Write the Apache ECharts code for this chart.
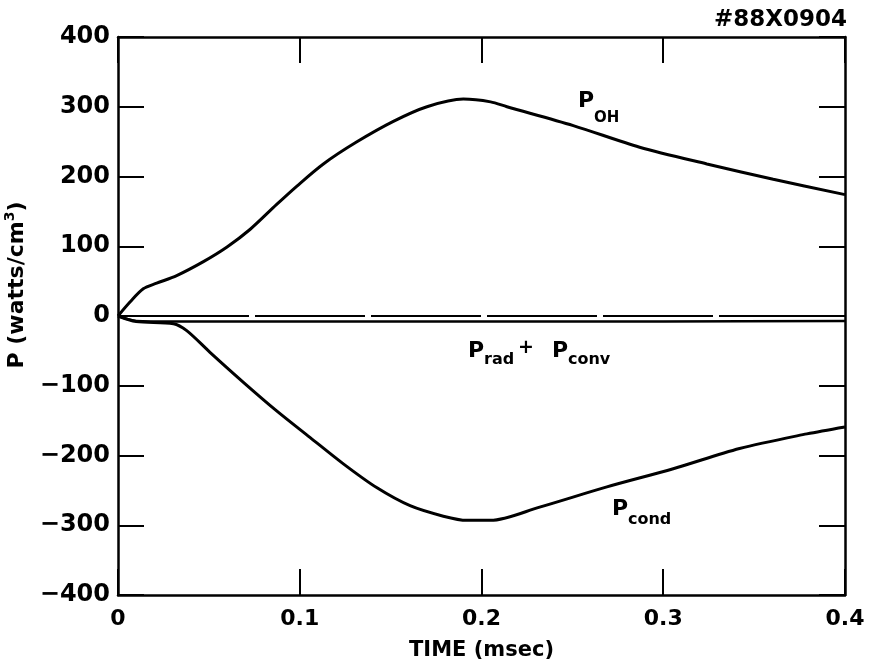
<!DOCTYPE html>
<html>
<head>
<meta charset="utf-8">
<script src="https://cdn.jsdelivr.net/npm/echarts@6/dist/echarts.min.js"></script>
<style>
html,body{margin:0;padding:0;background:#fff;}
#chart{width:873px;height:666px;}
</style>
</head>
<body>
<div id="chart"></div>
<script>
// ---- Data ----
var xTicks = [0, 0.1, 0.2, 0.3, 0.4];
var yTicks = [-400, -300, -200, -100, 0, 100, 200, 300, 400];

var ohTime  = [0, 0.0066, 0.0139, 0.0213, 0.0323, 0.047, 0.06, 0.0726, 0.0873, 0.0983, 0.113, 0.131, 0.1515, 0.17, 0.19, 0.205, 0.214, 0.2505, 0.287, 0.324, 0.3605, 0.4];
var ohValue = [0, 20, 39, 47, 58, 78, 99, 124, 160, 186, 218, 249, 279, 300, 311, 307, 300, 273, 242, 218, 196, 174];

var condTime  = [0, 0.01, 0.0305, 0.0378, 0.0506, 0.069, 0.0873, 0.1056, 0.124, 0.1423, 0.1607, 0.179, 0.192, 0.205, 0.232, 0.269, 0.3055, 0.342, 0.379, 0.4];
var condValue = [0, -8, -11, -21, -52, -95, -136, -174, -212, -246, -272, -287, -293, -293, -274, -245, -219, -190, -169, -159];

var radTime  = [0, 0.01, 0.03, 0.1, 0.2, 0.3, 0.4];
var radValue = [0, -7, -8, -8, -8, -8, -7];

var zeroTime  = [0, 0.4];
var zeroValue = [0, 0];

function pairs(xs, ys) { return xs.map(function (x, i) { return [x, ys[i]]; }); }

var FONT = 'DejaVu Sans';
var chart = echarts.init(document.getElementById('chart'), null, { renderer: 'canvas' });

var tickStyle = { show: true, inside: true, length: 26, lineStyle: { color: '#000', width: 2 } };
var lineAx = { show: true, onZero: false, lineStyle: { color: '#000', width: 2.5 } };

chart.setOption({
  backgroundColor: '#fff',
  animation: false,
  grid: { left: 118, right: 28, top: 37, bottom: 70, containLabel: false },
  xAxis: [{
    type: 'value', min: 0, max: 0.4, interval: 0.1, position: 'bottom',
    axisLine: lineAx, axisTick: tickStyle, splitLine: { show: false },
    axisLabel: { color: '#000', fontFamily: FONT, fontWeight: 'bold', fontSize: 22, margin: 13,
      formatter: function (v) { return xTicks.indexOf(Math.round(v * 10) / 10) >= 0 ? String(Math.round(v * 10) / 10) : ''; } },
    name: 'TIME (msec)', nameLocation: 'middle', nameGap: 45,
    nameTextStyle: { color: '#000', fontFamily: FONT, fontWeight: 'bold', fontSize: 21 }
  }, {
    type: 'value', min: 0, max: 0.4, interval: 0.1, position: 'top',
    axisLine: lineAx, axisTick: tickStyle, splitLine: { show: false }, axisLabel: { show: false }
  }],
  yAxis: [{
    type: 'value', min: -400, max: 400, interval: 100, position: 'left',
    axisLine: lineAx, axisTick: tickStyle, splitLine: { show: false },
    axisLabel: { color: '#000', fontFamily: FONT, fontWeight: 'bold', fontSize: 24, margin: 8,
      formatter: function (v) { return yTicks.indexOf(v) >= 0 ? String(v).replace('-', '\u2212') : ''; } }
  }, {
    type: 'value', min: -400, max: 400, interval: 100, position: 'right',
    axisLine: lineAx, axisTick: tickStyle, splitLine: { show: false }, axisLabel: { show: false }
  }],
  series: [
    { type: 'line', name: 'P_OH', data: pairs(ohTime, ohValue), smooth: 0.3, symbol: 'none',
      lineStyle: { color: '#000', width: 3 } },
    { type: 'line', name: 'P_cond', data: pairs(condTime, condValue), smooth: 0.3, symbol: 'none',
      lineStyle: { color: '#000', width: 3 } },
    { type: 'line', name: 'P_rad + P_conv', data: pairs(radTime, radValue), smooth: 0.3, symbol: 'none',
      lineStyle: { color: '#000', width: 2.5 } },
    { type: 'line', name: 'zero', data: pairs(zeroTime, zeroValue), symbol: 'none',
      lineStyle: { color: '#000', width: 2, type: [110, 6], dashOffset: 95 } }
  ],
  graphic: [
    // top-right identifier
    { type: 'text', x: 847, y: 20, style: { text: '#88X0904', fill: '#000', font: 'bold 23px "DejaVu Sans"', align: 'right', verticalAlign: 'middle' } },
    // y axis title (rotated)
    { type: 'text', x: 17, y: 285, rotation: Math.PI / 2,
      style: { text: '{b|P (watts/cm}{s|3}{b|)}', align: 'center', verticalAlign: 'middle',
        rich: { b: { fill: '#000', font: 'bold 22px "DejaVu Sans"' },
                s: { fill: '#000', font: 'bold 14px "DejaVu Sans"', verticalAlign: 'top', padding: [0, 0, 13, 0] } } } },
    // P_OH label
    { type: 'text', x: 578, y: 101, style: { text: 'P', fill: '#000', font: 'bold 22px "DejaVu Sans"', verticalAlign: 'middle' } },
    { type: 'text', x: 594, y: 118, style: { text: 'OH', fill: '#000', font: 'bold 15px "DejaVu Sans"', verticalAlign: 'middle' } },
    // P_rad + P_conv label
    { type: 'text', x: 468, y: 351, style: { text: 'P', fill: '#000', font: 'bold 22px "DejaVu Sans"', verticalAlign: 'middle' } },
    { type: 'text', x: 484, y: 360, style: { text: 'rad', fill: '#000', font: 'bold 16px "DejaVu Sans"', verticalAlign: 'middle' } },
    { type: 'text', x: 518, y: 348, style: { text: '+', fill: '#000', font: 'bold 19px "DejaVu Sans"', verticalAlign: 'middle' } },
    { type: 'text', x: 552, y: 351, style: { text: 'P', fill: '#000', font: 'bold 22px "DejaVu Sans"', verticalAlign: 'middle' } },
    { type: 'text', x: 568, y: 360, style: { text: 'conv', fill: '#000', font: 'bold 16px "DejaVu Sans"', verticalAlign: 'middle' } },
    // P_cond label
    { type: 'text', x: 612, y: 509, style: { text: 'P', fill: '#000', font: 'bold 22px "DejaVu Sans"', verticalAlign: 'middle' } },
    { type: 'text', x: 628, y: 520, style: { text: 'cond', fill: '#000', font: 'bold 16px "DejaVu Sans"', verticalAlign: 'middle' } }
  ]
});
</script>
</body>
</html>
